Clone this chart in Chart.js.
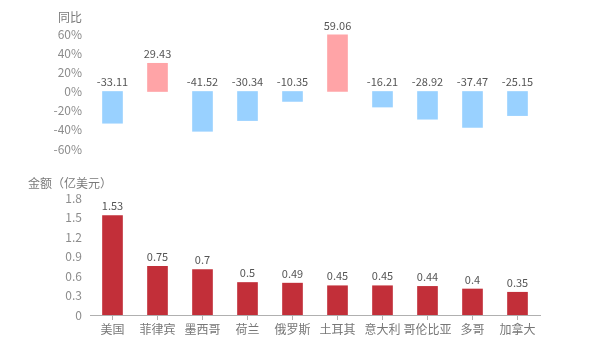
<!DOCTYPE html>
<html>
<head>
<meta charset="utf-8">
<script src="https://cdn.jsdelivr.net/npm/chart.js@4/dist/chart.umd.min.js"></script>
<style>
    html, body { margin: 0; padding: 0; background: #fff; }
    #wrap { position: relative; width: 600px; height: 350px; }
    #yoyChart { position: absolute; left: 0; top: 0; }
    #amtChart { position: absolute; left: 0; top: 170px; }
</style>
</head>
<body>
<div id="wrap">
    <canvas id="yoyChart" width="600" height="170"></canvas>
    <canvas id="amtChart" width="600" height="180"></canvas>
</div>
<script>
// 数据
const countries = ['美国', '菲律宾', '墨西哥', '荷兰', '俄罗斯', '土耳其', '意大利', '哥伦比亚', '多哥', '加拿大'];
const yoyValues = [-33.11, 29.43, -41.52, -30.34, -10.35, 59.06, -16.21, -28.92, -37.47, -25.15];
const amountValues = [1.53, 0.75, 0.7, 0.5, 0.49, 0.45, 0.45, 0.44, 0.4, 0.35];
const yoyTicks = [-60, -40, -20, 0, 20, 40, 60];
const amountTicks = [0, 0.3, 0.6, 0.9, 1.2, 1.5, 1.8];

const FONT = "'Noto Sans CJK SC', 'Noto Sans', sans-serif";
const TICK_GREY = '#8c8c8c', LABEL_INK = '#555', AXIS = '#b0b0b0';
const POS = '#ffa4a7', NEG = '#99d1ff', RED = '#c22f39';

Chart.defaults.font.family = FONT;
Chart.defaults.animation = false;

// 柱顶数值
const valueLabels = {
    id: 'valueLabels',
    afterDatasetsDraw(chart) {
        const ctx = chart.ctx;
        const ds = chart.data.datasets[0];
        ctx.save();
        ctx.font = `11px ${FONT}`;
        ctx.fillStyle = LABEL_INK;
        ctx.textAlign = 'center';
        ctx.textBaseline = 'bottom';
        chart.getDatasetMeta(0).data.forEach((bar, i) => {
            const top = Math.min(bar.y, bar.base);
            ctx.fillText(String(ds.data[i]), bar.x, top - 4);
        });
        ctx.restore();
    }
};

// 轴标题
const axisTitle = {
    id: 'axisTitle',
    afterDraw(chart, args, opts) {
        const ctx = chart.ctx;
        ctx.save();
        ctx.font = `12px ${FONT}`;
        ctx.fillStyle = '#7a7a7a';
        ctx.textAlign = opts.align;
        ctx.textBaseline = 'middle';
        ctx.fillText(opts.text, opts.x, opts.y);
        ctx.restore();
    }
};

function fixedTicks(values) {
    return function (axis) { axis.ticks = values.map(v => ({ value: v })); };
}

new Chart(document.getElementById('yoyChart'), {
    type: 'bar',
    data: {
        labels: countries,
        datasets: [{
            data: yoyValues,
            backgroundColor: yoyValues.map(v => v >= 0 ? POS : NEG),
            barThickness: 20
        }]
    },
    options: {
        responsive: false,
        layout: { padding: { left: 0, right: 60, top: 34, bottom: 21 } },
        plugins: {
            legend: { display: false },
            tooltip: { enabled: false },
            axisTitle: { text: '同比', x: 82, y: 17, align: 'right' }
        },
        scales: {
            x: { display: false },
            y: {
                min: -60, max: 60,
                afterBuildTicks: fixedTicks(yoyTicks),
                afterFit: s => { s.width = 90; },
                grid: { display: false, drawTicks: false },
                border: { display: false },
                ticks: { color: TICK_GREY, font: { size: 12 }, padding: 8, callback: v => v + '%' }
            }
        }
    },
    plugins: [valueLabels, axisTitle]
});

new Chart(document.getElementById('amtChart'), {
    type: 'bar',
    data: {
        labels: countries,
        datasets: [{ data: amountValues, backgroundColor: RED, barThickness: 20 }]
    },
    options: {
        responsive: false,
        layout: { padding: { left: 0, right: 60, top: 28, bottom: 0 } },
        plugins: {
            legend: { display: false },
            tooltip: { enabled: false },
            axisTitle: { text: '金额（亿美元）', x: 28, y: 13, align: 'left' }
        },
        scales: {
            x: {
                afterFit: s => { s.height = 35; },
                grid: { offset: false, drawOnChartArea: false, drawTicks: true, tickLength: 5, color: AXIS },
                border: { color: AXIS },
                ticks: { color: '#777', font: { size: 12 }, padding: 2, maxRotation: 0, autoSkip: false }
            },
            y: {
                min: 0, max: 1.8,
                afterBuildTicks: fixedTicks(amountTicks),
                afterFit: s => { s.width = 90; },
                grid: { display: false, drawTicks: false },
                border: { display: false },
                ticks: { color: TICK_GREY, font: { size: 12 }, padding: 8 }
            }
        }
    },
    plugins: [valueLabels, axisTitle]
});
</script>
</body>
</html>
